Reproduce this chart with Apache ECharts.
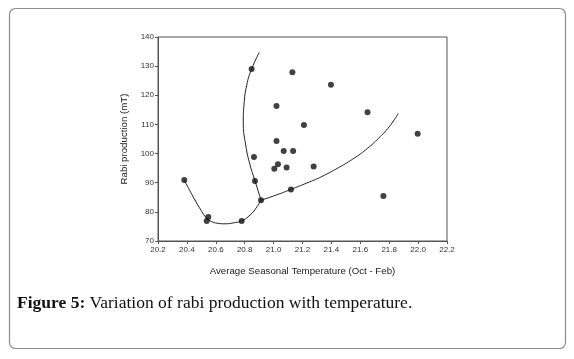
<!DOCTYPE html>
<html>
<head>
<meta charset="utf-8">
<script src="https://cdn.jsdelivr.net/npm/echarts@6/dist/echarts.min.js"></script>
<style>
html,body{margin:0;padding:0;background:#fff;}
#chart{width:574px;height:359px;}
</style>
</head>
<body>
<div id="chart"></div>
<script>
// Observed data (temperature °C, production mT)
var tempX = [20.382, 20.537, 20.548, 20.779, 20.848, 20.864, 20.871, 20.913, 21.005, 21.02, 21.02, 21.03, 21.07, 21.09, 21.12, 21.13, 21.135, 21.21, 21.277, 21.397, 21.65, 21.76, 21.997];
var prodY = [90.9, 76.9, 78.2, 76.9, 129.0, 98.8, 90.6, 84.0, 94.8, 116.3, 104.3, 96.3, 100.9, 95.2, 87.7, 127.9, 100.9, 109.8, 95.6, 123.6, 114.2, 85.4, 106.8];

// Fitted curves
var curveAx = [20.382, 20.42, 20.46, 20.50, 20.537, 20.57, 20.61, 20.664, 20.72, 20.779, 20.83, 20.87, 20.913];
var curveAy = [90.9, 87.3, 83.7, 80.4, 77.8, 76.7, 76.1, 75.9, 76.2, 76.9, 78.6, 80.7, 84.0];
var curveBx = [20.913, 20.871, 20.837, 20.807, 20.790, 20.795, 20.814, 20.848, 20.901];
var curveBy = [84.0, 90.7, 96.1, 102.9, 110.9, 116.7, 123.5, 129.0, 134.75];
var curveCx = [20.913, 21.02, 21.12, 21.23, 21.333, 21.45, 21.563, 21.65, 21.725, 21.80, 21.863];
var curveCy = [84.0, 85.8, 87.7, 89.9, 92.1, 95.2, 98.6, 101.8, 105.2, 109.2, 113.8];

var xMin = 20.2, xMax = 22.2, xStep = 0.2;
var yMin = 70, yMax = 140, yStep = 10;
var xTitle = 'Average Seasonal Temperature (Oct - Feb)';
var yTitle = 'Rabi production (mT)';
var captionBold = 'Figure 5:';
var captionText = ' Variation of rabi production with temperature.';

function zip(a, b) { return a.map(function (v, i) { return [v, b[i]]; }); }

var chart = echarts.init(document.getElementById('chart'), null, {renderer: 'canvas'});
var axisFont = 'Liberation Sans, Arial, sans-serif';
var curveStyle = {color: '#222', width: 1};

chart.setOption({
  animation: false,
  backgroundColor: '#fff',
  grid: {left: 158, top: 37, width: 289, height: 204, show: true, borderColor: '#555', borderWidth: 1, backgroundColor: 'transparent'},
  xAxis: {
    type: 'value', min: xMin, max: xMax, interval: xStep,
    name: xTitle, nameLocation: 'middle', nameGap: 25,
    nameTextStyle: {fontFamily: axisFont, fontSize: 9.7, color: '#222'},
    axisLine: {lineStyle: {color: '#555', width: 1}},
    axisTick: {show: true, inside: false, length: 3, lineStyle: {color: '#555'}},
    axisLabel: {fontFamily: axisFont, fontSize: 8, color: '#333', margin: 5,
      formatter: function (v) { return v.toFixed(1); }},
    splitLine: {show: false}
  },
  yAxis: {
    type: 'value', min: yMin, max: yMax, interval: yStep,
    name: yTitle, nameLocation: 'middle', nameGap: 27, nameRotate: 90,
    nameTextStyle: {fontFamily: axisFont, fontSize: 9.7, color: '#222'},
    axisLine: {show: true, lineStyle: {color: '#555', width: 1}},
    axisTick: {show: true, inside: false, length: 3, lineStyle: {color: '#555'}},
    axisLabel: {fontFamily: axisFont, fontSize: 8, color: '#333', margin: 4},
    splitLine: {show: false}
  },
  series: [
    {type: 'line', data: zip(curveAx, curveAy), smooth: 0.5, symbol: 'none', lineStyle: curveStyle, z: 2},
    {type: 'line', data: zip(curveBx, curveBy), smooth: 0.5, symbol: 'none', lineStyle: curveStyle, z: 2},
    {type: 'line', data: zip(curveCx, curveCy), smooth: 0.5, symbol: 'none', lineStyle: curveStyle, z: 2},
    {type: 'scatter', data: zip(tempX, prodY), symbol: 'circle', symbolSize: 6,
      itemStyle: {color: '#111'}, z: 3}
  ],
  graphic: [
    {type: 'rect', shape: {x: 9.5, y: 8.5, width: 556, height: 340, r: 6},
      style: {fill: 'none', stroke: '#8c8c8c', lineWidth: 1.2}, z: 0},
    {type: 'text', x: 17, y: 303,
      style: {
        text: '{b|' + captionBold + '}{n|' + captionText + '}',
        rich: {
          b: {fontFamily: 'Liberation Serif, Times New Roman, serif', fontSize: 17.5, fontWeight: 'bold', fill: '#111'},
          n: {fontFamily: 'Liberation Serif, Times New Roman, serif', fontSize: 17.5, fill: '#111'}
        },
        verticalAlign: 'middle'
      }, z: 5}
  ]
});
</script>
</body>
</html>
